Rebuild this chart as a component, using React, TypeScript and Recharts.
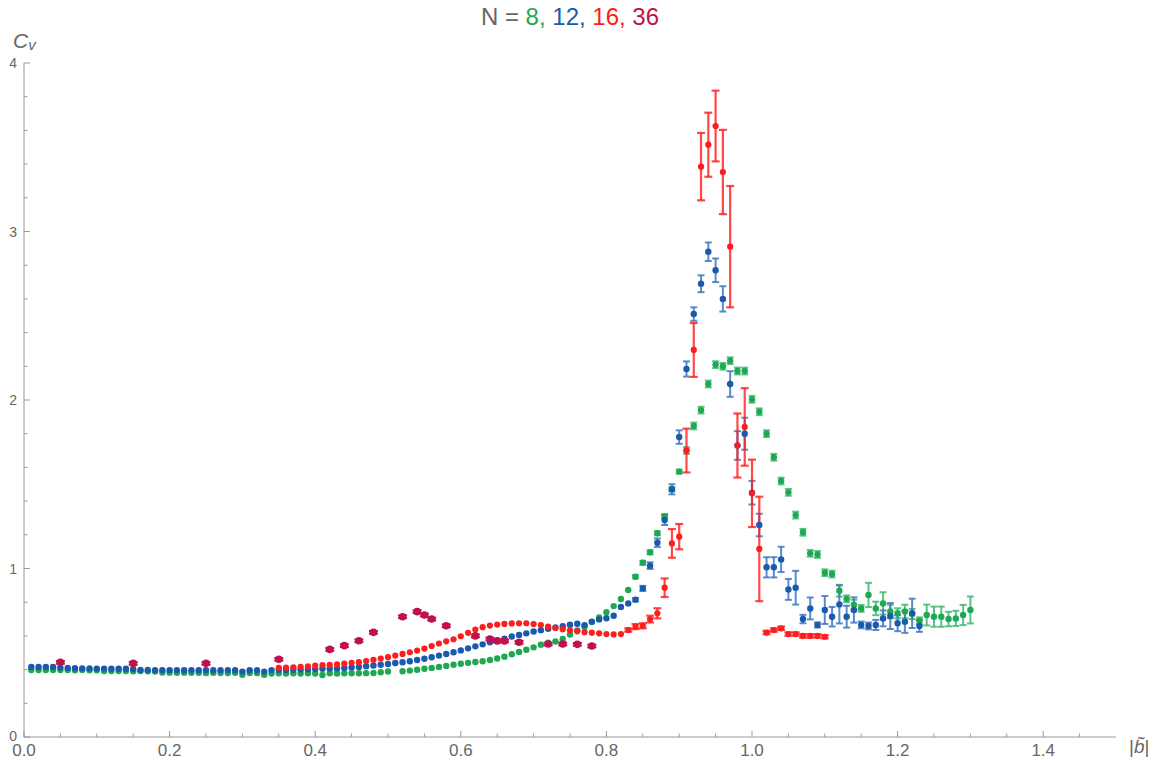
import { ScatterChart, Scatter, XAxis, YAxis, ErrorBar } from "recharts";

// grid step of |b| for the simulated series
const STEP = 0.01;

// N = 8, |b| from 0.01 to 1.30 (null = missing point)
const n8Start = 0.01;
const n8Values = [
  0.398, 0.398, 0.397, 0.398, 0.397, 0.397, 0.396, 0.397, 0.396, 0.396,
  0.392, 0.391, 0.392, 0.391, 0.39, 0.391, 0.39, 0.389, 0.383, 0.382,
  0.381, 0.382, 0.381, 0.381, 0.38, 0.381, 0.38, 0.38, 0.381, 0.369,
  0.38, 0.379, 0.369, 0.377, 0.378, 0.377, 0.378, 0.377, 0.378, 0.377,
  0.368, 0.378, 0.377, 0.378, 0.378, 0.378, 0.379, 0.38, 0.384, 0.389,
  null, 0.39, 0.394, 0.399, 0.405, 0.41, 0.416, 0.422, 0.429, 0.435,
  0.44, 0.445, 0.45, 0.457, 0.466, 0.477, 0.491, 0.505, 0.518, 0.532,
  0.548, 0.559, 0.567, 0.582, 0.608, 0.633, 0.655, 0.682, 0.71, 0.74,
  0.777, 0.819, 0.872, 0.951, 1.034, 1.096, 1.209, 1.31, 1.47, 1.575,
  1.7, 1.846, 1.94, 2.095, 2.21, 2.2, 2.233, 2.172, 2.172, 2.004,
  1.93, 1.8, 1.66, 1.519, 1.452, 1.317, 1.215, 1.09, 1.083, 0.975,
  0.967, 0.868, 0.82, 0.785, 0.763, 0.843, 0.763, 0.793, 0.745, 0.734,
  0.745, 0.73, 0.69, 0.724, 0.714, 0.714, 0.7, 0.704, 0.724, 0.754,
];
const n8ErrStart = 0.84;
const n8Err = [
  0.01, 0.012, 0.012, 0.012, 0.012, 0.012, 0.012,
  0.02, 0.02, 0.02, 0.02, 0.02, 0.02, 0.02, 0.02, 0.02, 0.02,
  0.02, 0.02, 0.02, 0.02, 0.02, 0.02, 0.02, 0.02, 0.02, 0.02,
  0.02, 0.035, 0.02, 0.03, 0.02, 0.072, 0.04, 0.066, 0.04, 0.03,
  0.04, 0.03, 0.02, 0.062, 0.06, 0.06, 0.043, 0.045, 0.06, 0.08,
];

// N = 12, |b| from 0.01 to 1.23
const n12Start = 0.01;
const n12Values = [
  0.416, 0.415, 0.415, 0.416, 0.412, 0.41, 0.408, 0.407, 0.407, 0.406,
  0.406, 0.405, 0.405, 0.405, 0.404, 0.398, 0.398, 0.397, 0.397, 0.397,
  0.397, 0.396, 0.397, 0.396, 0.397, 0.396, 0.396, 0.397, 0.396, 0.388,
  0.396, 0.396, 0.388, 0.397, 0.399, 0.398, 0.399, 0.4, 0.402, 0.404,
  0.405, 0.406, 0.407, 0.41, 0.413, 0.416, 0.42, 0.424, 0.429, 0.433,
  0.439, 0.444, 0.45, 0.457, 0.464, 0.473, 0.483, 0.493, 0.503, 0.514,
  0.526, 0.538, 0.55, 0.562, 0.574, 0.584, 0.596, 0.606, 0.615, 0.626,
  0.634, 0.642, 0.65, 0.658, 0.666, 0.672, 0.664, 0.685, 0.698, 0.705,
  0.72, 0.772, 0.793, 0.815, 0.882, 1.017, 1.153, 1.288, 1.47, 1.78,
  2.184, 2.51, 2.69, 2.88, 2.77, 2.6, 2.095, 1.73, 1.8, 1.45,
  1.258, 1.007, 1.007, 1.054, 0.876, 0.886, 0.7, 0.763, 0.665, 0.754,
  0.714, 0.787, 0.714, 0.754, 0.665, 0.659, 0.665, 0.704, 0.718, 0.675,
  0.684, 0.734, 0.659,
];
const n12ErrStart = 0.84;
const n12Err = [
  0.01, 0.015, 0.02, 0.025, 0.03, 0.03, 0.04,
  0.045, 0.04, 0.05, 0.055, 0.07, 0.075, 0.076, 0.085, 0.095, 0.07,
  0.067, 0.06, 0.06, 0.075, 0.062, 0.1, 0.025, 0.065, 0.015, 0.083,
  0.058, 0.113, 0.065, 0.075, 0.02, 0.02, 0.03, 0.047, 0.077, 0.047,
  0.066, 0.087, 0.035,
];

// N = 16, |b| from 0.35 to 1.10
const n16Start = 0.35;
const n16Values = [
  0.411, 0.412, 0.414, 0.416, 0.419, 0.423, 0.426, 0.428, 0.431, 0.435,
  0.44, 0.444, 0.451, 0.458, 0.466, 0.474, 0.483, 0.493, 0.503, 0.513,
  0.525, 0.54, 0.555, 0.568, 0.58, 0.598, 0.618, 0.638, 0.652, 0.661,
  0.667, 0.671, 0.674, 0.675, 0.675, 0.67, 0.664, 0.655, 0.647, 0.64,
  0.633, 0.627, 0.622, 0.619, 0.615, 0.611, 0.609, 0.611, 0.635, 0.655,
  0.66, 0.7, 0.734, 0.886, 1.149, 1.189, 1.7, 2.297, 3.385, 3.515,
  3.626, 3.353, 2.91, 1.73, 1.84, 1.446, 1.116, 0.62, 0.635, 0.645,
  0.611, 0.611, 0.6, 0.6, 0.6, 0.595,
];
const n16ErrStart = 0.83;
const n16Err = [
  0.01, 0.015, 0.015, 0.02, 0.03, 0.055, 0.085, 0.075,
  0.13, 0.16, 0.2, 0.19, 0.21, 0.25, 0.36, 0.19, 0.23, 0.2,
  0.31, 0.01, 0.01, 0.01, 0.01, 0.01, 0.01, 0.01, 0.01, 0.01,
];

// N = 36, sparse points
const n36B = [
  0.05, 0.15, 0.25, 0.35, 0.42, 0.44, 0.46, 0.48, 0.52, 0.54, 0.55,
  0.56, 0.58, 0.62, 0.64, 0.65, 0.66, 0.68, 0.72, 0.74, 0.76, 0.78,
];
const n36Values = [
  0.443, 0.437, 0.437, 0.461, 0.52, 0.542, 0.571, 0.621, 0.714, 0.744, 0.724,
  0.7, 0.66, 0.6, 0.581, 0.57, 0.57, 0.562, 0.552, 0.552, 0.55, 0.54,
];

const xMajorTicks = [0, 0.2, 0.4, 0.6, 0.8, 1.0, 1.2, 1.4];
const xTicks = [
  0, 0.05, 0.1, 0.15, 0.2, 0.25, 0.3, 0.35, 0.4, 0.45, 0.5, 0.55, 0.6, 0.65,
  0.7, 0.75, 0.8, 0.85, 0.9, 0.95, 1.0, 1.05, 1.1, 1.15, 1.2, 1.25, 1.3, 1.35,
  1.4, 1.45,
];
const yMajorTicks = [0, 1, 2, 3, 4];
const yTicks = [
  0, 0.2, 0.4, 0.6, 0.8, 1, 1.2, 1.4, 1.6, 1.8, 2, 2.2, 2.4, 2.6, 2.8, 3,
  3.2, 3.4, 3.6, 3.8, 4,
];

const FONT = "'Liberation Sans', Arial, sans-serif";
const AXIS = "#9a9a9a";
const LABEL = "#666666";
const C8 = "#1fa852";
const C8_BAR = "#3dba73";
const C12 = "#1a5aad";
const C12_BAR = "#3f78c0";
const C16 = "#ff1c1c";
const C36 = "#c2104c";

type Pt = { b: number; cv: number; err: number };

function toPoints(
  start: number,
  values: (number | null)[],
  errStart: number,
  errs: number[],
): Pt[] {
  const pts: Pt[] = [];
  values.forEach((v, i) => {
    if (v === null) return;
    const b = Math.round((start + i * STEP) * 100) / 100;
    const j = Math.round((b - errStart) * 100);
    const err = j >= 0 && j < errs.length ? errs[j] : 0;
    pts.push({ b, cv: v, err });
  });
  return pts;
}

const n8 = toPoints(n8Start, n8Values, n8ErrStart, n8Err);
const n12 = toPoints(n12Start, n12Values, n12ErrStart, n12Err);
const n16 = toPoints(n16Start, n16Values, n16ErrStart, n16Err);
const n36 = n36B.map((b, i) => ({ b, cv: n36Values[i], err: 0.008 }));

const isMajor = (list: number[], v: number) =>
  list.some((m) => Math.abs(m - v) < 1e-6);

function XTick(props: any) {
  const { x, y, payload } = props;
  const v = payload.value as number;
  const major = isMajor(xMajorTicks, v);
  return (
    <g>
      <line x1={x} x2={x} y1={y} y2={y - (major ? 6 : 3.5)} stroke={AXIS} />
      {major && (
        <text
          x={x}
          y={y + 19}
          textAnchor="middle"
          fontSize={17}
          fontFamily={FONT}
          fill={LABEL}
        >
          {v.toFixed(1)}
        </text>
      )}
    </g>
  );
}

function YTick(props: any) {
  const { x, y, payload } = props;
  const v = payload.value as number;
  const major = isMajor(yMajorTicks, v);
  return (
    <g>
      <line x1={x} x2={x + (major ? 6 : 3.5)} y1={y} y2={y} stroke={AXIS} />
      {major && (
        <text
          x={x - 7}
          y={v === 0 ? y - 1 : y}
          dy="0.36em"
          textAnchor="end"
          fontSize={14}
          fontFamily={FONT}
          fill={LABEL}
        >
          {v}
        </text>
      )}
    </g>
  );
}

const dot = (color: string, r: number) => (p: any) => (
  <circle cx={p.cx} cy={p.cy} r={r} fill={color} />
);

const W = 1148;
const H = 752;

export default function App() {
  return (
    <div style={{ position: "relative", width: W, height: H, fontFamily: FONT }}>
      <ScatterChart
        width={W}
        height={H}
        margin={{ top: 55, right: 40, bottom: 3, left: 6 }}
      >
        <XAxis
          type="number"
          dataKey="b"
          domain={[0, 1.5]}
          allowDataOverflow
          ticks={xTicks}
          interval={0}
          tickSize={0}
          tickMargin={0}
          tickLine={false}
          tick={<XTick />}
          axisLine={{ stroke: AXIS }}
          height={20}
        />
        <YAxis
          type="number"
          dataKey="cv"
          domain={[0, 4]}
          allowDataOverflow
          ticks={yTicks}
          interval={0}
          tickSize={0}
          tickMargin={0}
          tickLine={false}
          tick={<YTick />}
          axisLine={{ stroke: AXIS }}
          width={10}
        />
        <Scatter data={n8} isAnimationActive={false} shape={dot(C8, 3.2)}>
          <ErrorBar
            dataKey="err"
            direction="y"
            width={3.5}
            stroke={C8_BAR}
            strokeWidth={2}
            strokeOpacity={0.85}
            isAnimationActive={false}
          />
        </Scatter>
        <Scatter data={n12} isAnimationActive={false} shape={dot(C12, 3.2)}>
          <ErrorBar
            dataKey="err"
            direction="y"
            width={3.5}
            stroke={C12_BAR}
            strokeWidth={2}
            strokeOpacity={0.85}
            isAnimationActive={false}
          />
        </Scatter>
        <Scatter data={n16} isAnimationActive={false} shape={dot(C16, 3.1)}>
          <ErrorBar
            dataKey="err"
            direction="y"
            width={4}
            stroke={C16}
            strokeWidth={2.2}
            strokeOpacity={0.8}
            isAnimationActive={false}
          />
        </Scatter>
        <Scatter data={n36} isAnimationActive={false} shape={dot(C36, 3.8)}>
          <ErrorBar
            dataKey="err"
            direction="y"
            width={4.5}
            stroke={C36}
            strokeWidth={2}
            isAnimationActive={false}
          />
        </Scatter>
      </ScatterChart>
      {/* overlay in page coordinates: title and axis labels */}
      <svg
        width={1156}
        height={760}
        style={{ position: "absolute", left: -8, top: -8, pointerEvents: "none" }}
      >
        <text x={570} y={25} textAnchor="middle" fontSize={24} fontFamily={FONT}>
          <tspan fill={LABEL}>N = </tspan>
          <tspan fill={C8}>8, </tspan>
          <tspan fill={C12}>12, </tspan>
          <tspan fill={C16}>16, </tspan>
          <tspan fill={C36}>36</tspan>
        </text>
        <text x={13} y={48} fontSize={21} fontFamily={FONT} fill={LABEL} fontStyle="italic">
          C
          <tspan fontSize={15} dy={2}>v</tspan>
        </text>
        <text x={1129} y={753} fontSize={19} fontFamily={FONT} fill={LABEL}>
          |<tspan fontStyle="italic">b&#771;</tspan>|
        </text>
      </svg>
    </div>
  );
}
